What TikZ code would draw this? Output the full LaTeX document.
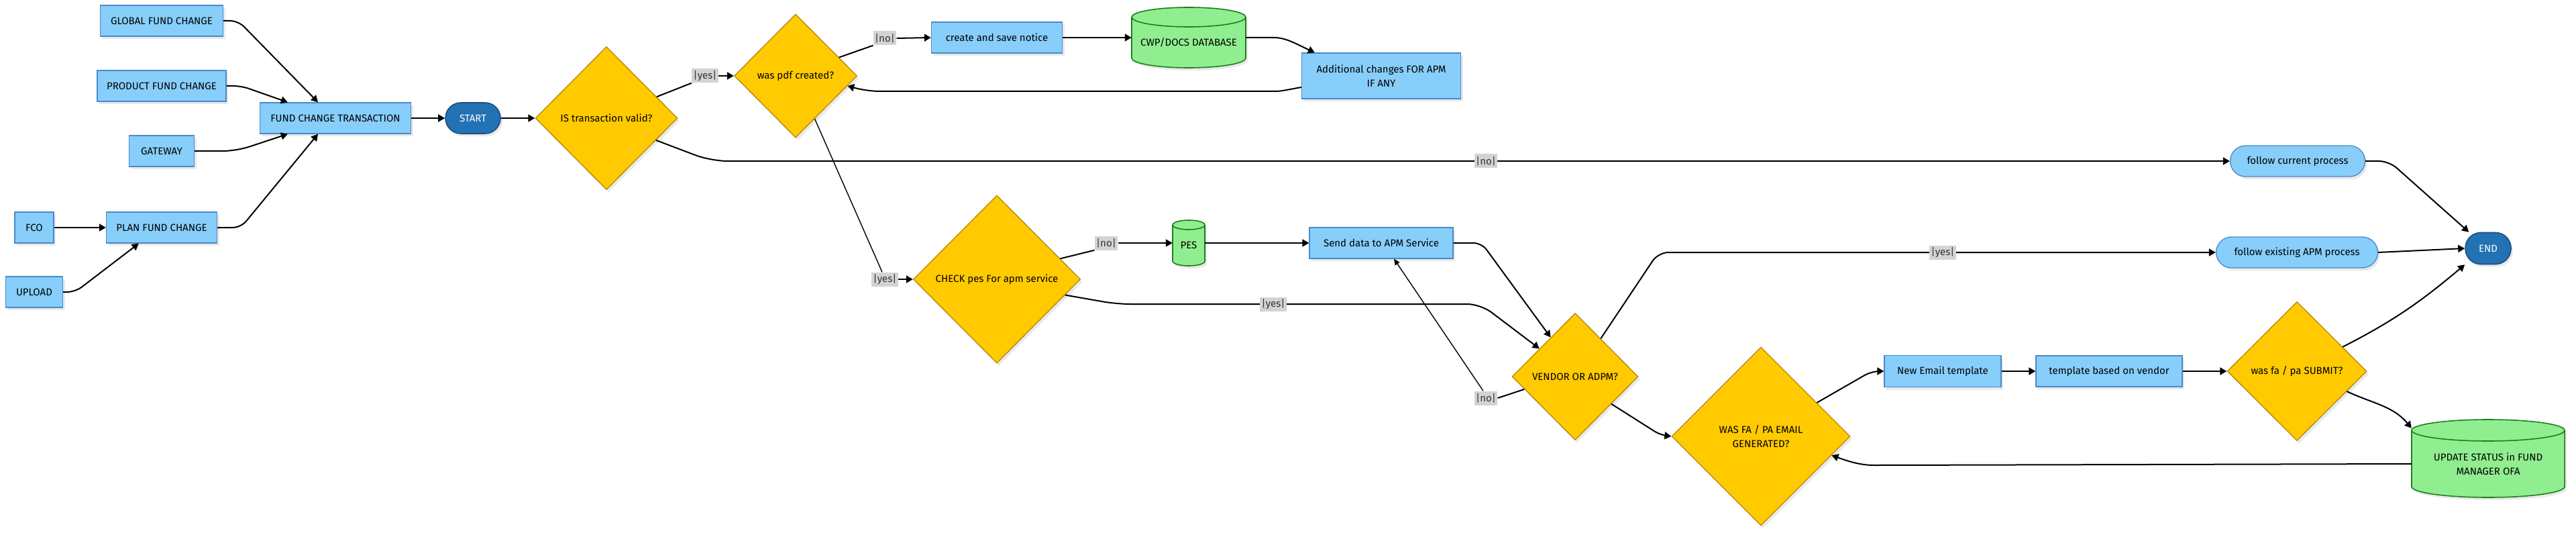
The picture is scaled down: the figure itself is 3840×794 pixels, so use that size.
\documentclass[tikz,border=0pt]{standalone}
\usepackage{fontspec}
\setmainfont{Fira Sans}
\usetikzlibrary{shapes.geometric,arrows.meta,calc,shadows}
\definecolor{boxfill}{HTML}{87CEFA}
\definecolor{boxdraw}{HTML}{4A89C8}
\definecolor{diafill}{HTML}{FFCA00}
\definecolor{diadraw}{HTML}{B8860B}
\definecolor{cylfill}{HTML}{90EE90}
\definecolor{cyldraw}{HTML}{1E7D1E}
\definecolor{termfill}{HTML}{2272B4}
\definecolor{termdraw}{HTML}{1B4F80}
\definecolor{labfill}{HTML}{D3D3D3}
\definecolor{labtext}{HTML}{333333}
\definecolor{shadowc}{HTML}{E9E9E9}
\pgfdeclarelayer{front}
\pgfsetlayers{main,front}
% #1 name, #2 cx, #3 cy (image, down), #4 width, #5 height, #6 ellipse ry, #7 text
\newcommand\dbcyl[7]{%
  \begin{scope}[shift={(#2,-#3)}]
    \fill[shadowc] ({-#4/2+3},{#5/2-#6-4}) -- ({-#4/2+3},{-#5/2+#6-4})
      arc[start angle=180,end angle=360,x radius=#4/2,y radius=#6]
      -- ({#4/2+3},{#5/2-#6-4})
      arc[start angle=0,end angle=180,x radius=#4/2,y radius=#6] -- cycle;
    \draw[cyldraw,fill=cylfill,line width=1.6pt] ({-#4/2},{#5/2-#6}) -- ({-#4/2},{-#5/2+#6})
      arc[start angle=180,end angle=360,x radius=#4/2,y radius=#6]
      -- ({#4/2},{#5/2-#6})
      arc[start angle=0,end angle=180,x radius=#4/2,y radius=#6] -- cycle;
    \draw[cyldraw,line width=1.6pt] ({-#4/2},{#5/2-#6})
      arc[start angle=180,end angle=360,x radius=#4/2,y radius=#6];
  \end{scope}
  \node[rectangle,minimum width=#4pt,minimum height=#5pt] (#1) at (#2,-#3) {};
  \node[rectangle,align=center] (#1-text) at (#2,{-#3-#6/2}) {#7};
}
\begin{document}
\begin{tikzpicture}[x=1pt,y=1pt,
  every node/.style={font=\fontsize{15}{21}\selectfont, inner sep=0pt},
  shad/.style={drop shadow={shadow xshift=3pt,shadow yshift=-4pt,fill=shadowc,opacity=1}},
  box/.style={rectangle, draw=boxdraw, fill=boxfill, line width=1.3pt, shad},
  dia/.style={diamond, draw=diadraw, fill=diafill, line width=1.3pt, shad, align=center},
  term/.style={rectangle, rounded corners=23pt, draw=termdraw, fill=termfill, text=white, line width=1.6pt, shad},
  proc/.style={rectangle, rounded corners=23pt, draw=boxdraw, fill=boxfill, line width=1.3pt, shad},
  elab/.style={fill=labfill, text=labtext, inner xsep=2.5pt, minimum height=21pt},
  conn/.style={line width=2pt, rounded corners=12pt},
  arr/.style={conn, -{Triangle[length=10pt,width=11pt]}},
  fine/.style={line width=1.4pt},
  tarr/.style={fine, -{Triangle[length=9pt,width=8pt]}},
]
\useasboundingbox (0,0) rectangle (3840,-794);
\fill[white] (0,0) rectangle (3840,-794);

% ---------- nodes ----------
\node[box, minimum width=183pt, minimum height=46pt] (global) at (241,-31) {GLOBAL FUND CHANGE};
\node[box, minimum width=192pt, minimum height=46pt] (product) at (241,-128) {PRODUCT FUND CHANGE};
\node[box, minimum width=97pt, minimum height=46pt] (gateway) at (241,-225) {GATEWAY};
\node[box, minimum width=225pt, minimum height=46pt] (fct) at (500,-176) {FUND CHANGE TRANSACTION};
\node[term, minimum width=82pt, minimum height=46pt] (start) at (705,-176) {START};
\node[box, minimum width=58pt, minimum height=46pt] (fco) at (51,-339) {FCO};
\node[box, minimum width=165pt, minimum height=46pt] (plan) at (241,-339) {PLAN FUND CHANGE};
\node[box, minimum width=85pt, minimum height=46pt] (upload) at (51,-435) {UPLOAD};
\node[dia, minimum width=212pt, minimum height=213pt] (valid) at (904,-176) {IS transaction valid?};
\node[dia, minimum width=183pt, minimum height=184pt] (pdf) at (1186,-113) {was pdf created?};
\node[box, minimum width=195pt, minimum height=46pt] (create) at (1486,-56) {create and save notice};
\dbcyl{cwp}{1772}{56}{170}{90}{14.5}{CWP/DOCS DATABASE}
\node[box, minimum width=237pt, minimum height=68pt, align=center] (additional) at (2059,-113) {Additional changes FOR APM\\IF ANY};
\node[dia, minimum width=249pt, minimum height=250pt] (check) at (1486,-416) {CHECK pes For apm service};
\dbcyl{pes}{1772}{362}{48}{68}{7}{PES}
\node[box, minimum width=214pt, minimum height=46pt] (send) at (2059,-362) {Send data to APM Service};
\node[dia, minimum width=188pt, minimum height=189pt] (vendor) at (2348,-561) {VENDOR OR ADPM?};
\node[dia, minimum width=266pt, minimum height=266pt] (wasfa) at (2625,-650) {WAS FA / PA EMAIL\\GENERATED?};
\node[box, minimum width=174pt, minimum height=47pt] (newemail) at (2896,-553) {New Email template};
\node[box, minimum width=218pt, minimum height=46pt] (templ) at (3144,-553) {template based on vendor};
\node[dia, minimum width=208pt, minimum height=207pt] (submit) at (3424,-553) {was fa / pa SUBMIT?};
\dbcyl{update}{3709}{683}{228}{116}{16}{UPDATE STATUS in FUND\\MANAGER OFA}
\node[proc, minimum width=201pt, minimum height=46pt] (current) at (3425,-240) {follow current process};
\node[proc, minimum width=241pt, minimum height=46pt] (existing) at (3424,-376) {follow existing APM process};
\node[term, minimum width=68pt, minimum height=47pt] (end) at (3709,-370) {END};

% ---------- edge labels ----------
\begin{pgfonlayer}{front}
\node[elab] (l1) at (1051,-113) {|yes|};
\node[elab] (l2) at (1319,-57) {|no|};
\node[elab] (l3) at (1319,-416) {|yes|};
\node[elab] (l4) at (1649,-362) {|no|};
\node[elab] (l5) at (1898,-453) {|yes|};
\node[elab] (l6) at (2896,-376) {|yes|};
\node[elab] (l7) at (2215,-593) {|no|};
\node[elab] (l8) at (2215,-240) {|no|};
\end{pgfonlayer}

% ---------- connectors ----------
\draw[arr] (global.east) -- ++(22,0) -- ([xshift=-26pt]fct.north);
\draw[arr] (product.east) -- ++(22,0) -- ([xshift=42pt]fct.north west);
\draw[arr, rounded corners=20pt] (gateway.east) -- ++(62,0) -- ([xshift=42pt]fct.south west);
\draw[arr] (plan.east) -- ++(35,0) -- ([xshift=-26pt]fct.south);
\draw[arr] (fco.east) -- (plan.west);
\draw[arr] (upload.east) -- ++(18,0) -- ([xshift=49pt]plan.south west);
\draw[arr] (fct.east) -- (start.west);
\draw[arr] (start.east) -- (valid.west);

\draw[conn] (valid.23) -- (l1.south west);
\draw[arr] (l1.east) -- (pdf.west);
\draw[conn] (pdf.23) -- (l2.south west);
\draw[arr] (l2.east) -- (create.west);
\draw[arr] (create.east) -- (cwp.west);
\draw[arr] (cwp.east) -- ++(30,0) to[out=0,in=155] ([xshift=20pt]additional.north west);
\draw[arr] ([yshift=-17pt]additional.west) to[out=190,in=0] ++(-50,-6) -- (1325,-136) to[out=180,in=-15] (pdf.-11);
\draw[arr, rounded corners=25pt] (valid.-24) -- (1060,-240) -- (current.west);

\draw[fine] (pdf.-66) -- ([xshift=-4pt]l3.north);
\draw[arr] (l3.east) -- (check.west);
\draw[conn] (check.18) -- (l4.south west);
\draw[arr] (l4.east) -- (pes.west);
\draw[arr] (pes.east) -- (send.west);
\draw[arr] (send.east) -- ++(42,0) -- (vendor.122);
\draw[arr, rounded corners=20pt] (check.-13) -- (1665,-453) -- (2207,-453) -- (vendor.142);
\draw[arr, rounded corners=15pt] (vendor.56) -- (2472,-376) -- (existing.west);
\draw[conn] (vendor.-166) -- (l7.east);
\draw[tarr] ([xshift=-4pt]l7.north) -- ([xshift=19pt]send.south);
\draw[arr, rounded corners=10pt] (vendor.-37) -- (2475,-648) -- (wasfa.west);
\draw[arr] (wasfa.31) -- (2790,-553) -- (newemail.west);
\draw[arr] (newemail.east) -- (templ.west);
\draw[arr] (templ.east) -- (submit.west);
\draw[arr] (submit.28) to[out=27,in=220] (end.south west);
\draw[arr] (submit.-22) to[out=-25,in=130] ([yshift=-13pt]update.north west);
\draw[arr] ([yshift=-8pt]update.west) -- (2805,-693) to[out=180,in=-20] (wasfa.-15);
\draw[arr, rounded corners=15pt] (current.east) -- ++(35,0) -- ([xshift=6pt]end.north west);
\draw[arr] (existing.east) -- (end.west);
\end{tikzpicture}
\end{document}
